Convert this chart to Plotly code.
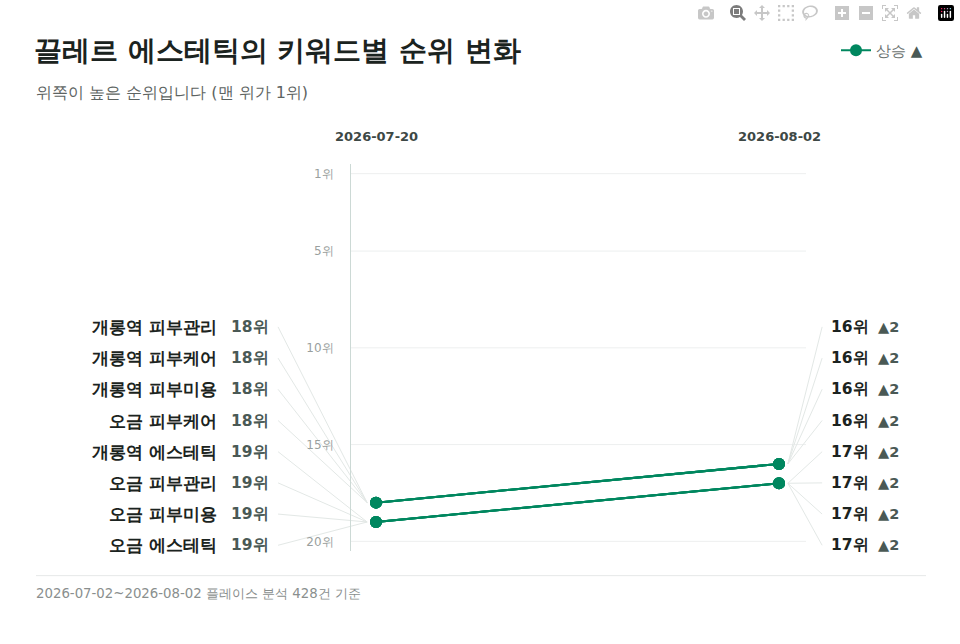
import plotly.graph_objs as go

# data
keywords = ["개롱역 피부관리", "개롱역 피부케어", "개롱역 피부미용", "오금 피부케어",
            "개롱역 에스테틱", "오금 피부관리", "오금 피부미용", "오금 에스테틱"]
rank_start = [18, 18, 18, 18, 19, 19, 19, 19]
rank_end = [16, 16, 16, 16, 17, 17, 17, 17]
dates = ["2026-07-20", "2026-08-02"]
y_ticks = [1, 5, 10, 15, 20]

GREEN = "#00875f"
DARK = "#1b2320"
MID = "#4a5955"
LEADER = "#e3e8e6"
FONT = "DejaVu Sans"

# label slots in rank units (labels spread out, spacing ~31px)
slot_top = 8.92
slot_step = 1.612
slots = [slot_top + i * slot_step for i in range(len(keywords))]


def main():
    fig = go.Figure()

    # leader lines (drawn first so they sit under the dots)
    for i in range(len(keywords)):
        fig.add_trace(go.Scatter(x=[-0.243, -0.022], y=[slots[i], rank_start[i]], mode="lines",
                                 line=dict(color=LEADER, width=1), hoverinfo="skip", showlegend=False))
        fig.add_trace(go.Scatter(x=[1.022, 1.107], y=[rank_end[i], slots[i]], mode="lines",
                                 line=dict(color=LEADER, width=1), hoverinfo="skip", showlegend=False))

    # gridlines only across the chart body
    for t in y_ticks:
        fig.add_shape(type="line", xref="x", yref="y", x0=-0.0645, x1=1.067, y0=t, y1=t,
                      line=dict(color="#edefef", width=1), layer="below")

    for i, kw in enumerate(keywords):
        fig.add_trace(go.Scatter(
            x=[0, 1], y=[rank_start[i], rank_end[i]], mode="lines+markers",
            line=dict(color=GREEN, width=2), marker=dict(color=GREEN, size=12),
            name="상승 <span style='color:#4a5955'>▲</span>", legendgroup="up", showlegend=(i == 0),
            hovertext=kw, cliponaxis=False,
        ))

        change = rank_start[i] - rank_end[i]
        fig.add_annotation(x=-0.3896, y=slots[i], text=kw, xanchor="right", showarrow=False,
                           font=dict(size=17.3, color=DARK, family=FONT, weight=800))
        fig.add_annotation(x=-0.366, y=slots[i], text=f"{rank_start[i]}위", xanchor="left",
                           showarrow=False, font=dict(size=15.5, color=MID, family=FONT, weight=700))
        fig.add_annotation(x=1.124, y=slots[i], text=f"{rank_end[i]}위", xanchor="left",
                           showarrow=False, font=dict(size=15.5, color=DARK, family=FONT, weight=800))
        fig.add_annotation(x=1.241, y=slots[i], text=f"<b>▲{change}</b>", xanchor="left",
                           showarrow=False, font=dict(size=14.5, color=MID, family=FONT))

    for j, d in enumerate(dates):
        fig.add_annotation(x=j, y=1.0707, yref="paper", yanchor="middle", text=f"<b>{d}</b>",
                           showarrow=False, font=dict(size=13, color="#3d4845", family=FONT))

    # footer rule + texts
    fig.add_shape(type="line", xref="paper", yref="paper", x0=36 / 960, x1=926 / 960,
                  y0=-0.0637, y1=-0.0637, line=dict(color="#e6e8e8", width=1))
    fig.add_annotation(x=34 / 960, y=-0.110, xref="paper", yref="paper", xanchor="left", yanchor="middle",
                       text="2026-07-02~2026-08-02 플레이스 분석 428건 기준", showarrow=False,
                       font=dict(size=13.3, color="#8a8f8e", family=FONT))
    fig.add_annotation(x=34 / 960, y=1.1846, xref="paper", yref="paper", xanchor="left", yanchor="middle",
                       text="위쪽이 높은 순위입니다 (맨 위가 1위)", showarrow=False,
                       font=dict(size=16, color="#5d6462", family=FONT))

    fig.update_layout(
        width=960, height=644,
        margin=dict(l=0, r=0, t=164, b=93),
        paper_bgcolor="white", plot_bgcolor="white",
        font=dict(family=FONT),
        title=dict(text="끌레르 에스테틱의 키워드별 순위 변화", x=34 / 960, xanchor="left",
                   y=1 - 50 / 644, yanchor="middle", font=dict(size=28, color=DARK, weight=900)),
        legend=dict(orientation="h", x=928 / 960, xanchor="right", y=1 - 34 / 644, yref="container",
                    yanchor="top", font=dict(size=15, color="#6b7270"), itemwidth=30,
                    bgcolor="rgba(0,0,0,0)"),
        xaxis=dict(range=[-376 / 403, 584 / 403], visible=False, domain=[0, 1]),
        yaxis=dict(range=[20.5, 0.5], anchor="free", position=350 / 960, tickvals=y_ticks,
                   ticktext=[f"{t}위" for t in y_ticks], showgrid=False, zeroline=False,
                   showline=True, linecolor="#ccd9d5", linewidth=1, ticks="", ticklabelstandoff=14,
                   tickfont=dict(size=12, color="#9a9f9e")),
        hovermode="closest",
    )

    fig.write_html("out.html", post_script="document.body.style.margin='0';")


if __name__ == "__main__":
    main()
